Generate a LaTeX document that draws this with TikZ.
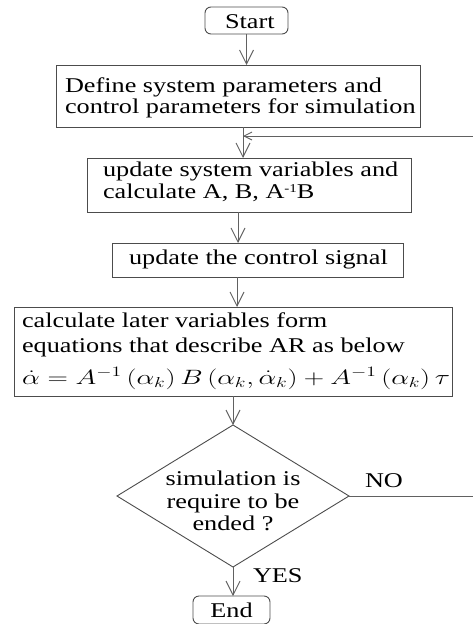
\documentclass[tikz,border=0pt]{standalone}
\usepackage{fontspec}
\usepackage{graphicx}
\setmainfont{Liberation Serif}[FakeStretch=1.25]
\usetikzlibrary{arrows.meta,shapes.geometric}
\definecolor{framegray}{gray}{0.30}
\definecolor{wiregray}{gray}{0.38}
\newcommand{\smallsup}[1]{\raisebox{6pt}{\fontsize{12}{12}\selectfont #1}}
\begin{document}
\begin{tikzpicture}[x=1pt,y=-1pt,
  every node/.style={inner sep=0pt,outer sep=0pt},
  box/.style={draw=framegray,line width=0.9pt,rectangle,anchor=north west},
  term/.style={box,rounded corners=6pt},
  lbl/.style={font=\fontsize{21}{24}\selectfont,text=black,anchor=base west},
  clbl/.style={lbl,anchor=base},
  wire/.style={draw=wiregray,line width=0.9pt},
  arr/.style={wire,-{Straight Barb[length=14pt,width=14pt]}},
  backarr/.style={wire,-{Straight Barb[length=8pt,width=8pt]}}]
\useasboundingbox (0,0) rectangle (473,624);

% process boxes
\node[term,minimum width=83pt,minimum height=27pt] (start) at (205,7) {};
\node[box,minimum width=364pt,minimum height=62pt] (define) at (56,65) {};
\node[box,minimum width=324pt,minimum height=54pt] (vars) at (87,158) {};
\node[box,minimum width=291pt,minimum height=34pt] (signal) at (112,243) {};
\node[box,minimum width=438pt,minimum height=89pt] (calc) at (14,307) {};
\node[draw=framegray,line width=0.9pt,diamond,aspect=1.634,
      minimum width=232pt,minimum height=142pt] (dia) at (233,496) {};
\node[term,minimum width=77pt,minimum height=28pt] (end) at (193,596) {};

% texts
\node[lbl] (tstart) at (225,28) {Start};
\node[lbl] (tdefA) at (65,92) {Define system parameters and};
\node[lbl] (tdefB) at (65,113) {control parameters for simulation};
\node[lbl] (tvarA) at (103,176) {update system variables and};
\node[lbl] (tvarB) at (103,198) {calculate A, B, A\smallsup{-1}B};
\node[lbl] (tsig) at (129,264) {update the control signal};
\node[lbl] (tcalA) at (22,327) {calculate later variables form};
\node[lbl] (tcalB) at (22,352) {equations that describe AR as below};
\node[lbl] (teq) at (22,384) {\resizebox{428pt}{\height}{\fontsize{20}{22}\selectfont
  $\dot\alpha = A^{-1}\,(\alpha_k)\,B\,(\alpha_k,\dot\alpha_k) + A^{-1}\,(\alpha_k)\,\tau$}};
\node[clbl] (tdiaA) at (233,485) {simulation is};
\node[clbl] (tdiaB) at (233,508) {require to be};
\node[clbl] (tdiaC) at (233,530) {ended ?};
\node[lbl] (tno) at (365,487) {NO};
\node[lbl] (tyes) at (253,582) {YES};
\node[clbl] (tend) at (231.5,617) {End};

% arrow columns
\coordinate (xa) at (243,0);
\coordinate (xb) at (238,0);
\coordinate (xc) at (237,0);
\coordinate (xd) at (233,0);
\coordinate (rim) at (476,0);
\coordinate (loopin) at (243,136);

% connectors
\draw[arr] (start.south) -- (start.south |- define.north);
\draw[wire] (define.south -| xa) -- (loopin);
\draw[arr] (loopin) -- (vars.north -| xa);
\draw[arr] (vars.south -| xb) -- (signal.north -| xb);
\draw[arr] (signal.south -| xc) -- (calc.north -| xc);
\draw[arr] (calc.south -| xd) -- (dia.north);
\draw[arr] (dia.south) -- (dia.south |- end.north);
\draw[backarr] (dia.east) -- (dia.east -| rim) -- (loopin -| rim) -- (loopin);
\end{tikzpicture}
\end{document}
